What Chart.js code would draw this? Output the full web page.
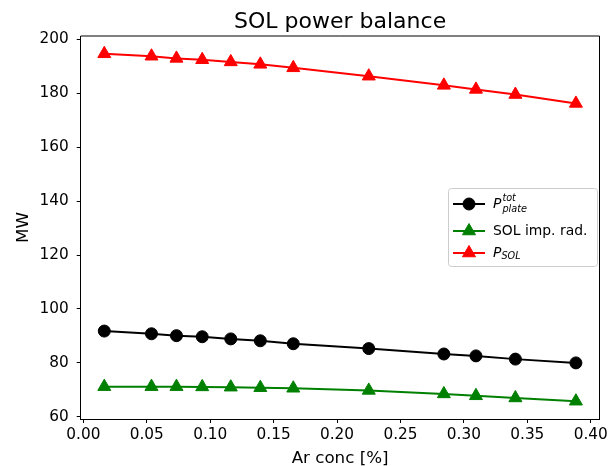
<!DOCTYPE html>
<html>
<head>
<meta charset="utf-8">
<script src="https://cdn.jsdelivr.net/npm/chart.js@4/dist/chart.umd.min.js"></script>
<style>
  html, body { margin: 0; padding: 0; background: #fff; }
  canvas { display: block; }
</style>
</head>
<body>
<canvas id="chart" width="608" height="466"></canvas>
<script>
// values
const arConc = [0.0165, 0.0537, 0.0734, 0.0937, 0.1162, 0.1395, 0.1655, 0.2250, 0.2842, 0.3095, 0.3406, 0.3883];
const pPlate = [91.8, 90.8, 90.1, 89.7, 88.9, 88.2, 87.1, 85.3, 83.3, 82.6, 81.4, 80.0];
const solImpRad = [71.2, 71.2, 71.2, 71.1, 71.0, 70.8, 70.6, 69.8, 68.5, 67.8, 67.0, 65.8];
const pSol = [194.6, 193.7, 192.9, 192.4, 191.6, 190.7, 189.4, 186.3, 182.9, 181.4, 179.5, 176.2];

const xTicks = [0, 0.05, 0.1, 0.15, 0.2, 0.25, 0.3, 0.35, 0.4];
const yTicks = [60, 80, 100, 120, 140, 160, 180, 200];

const FONT = "'DejaVu Sans', sans-serif";
Chart.defaults.color = "#000";
Chart.defaults.font.family = FONT;

function points(ys) {
  return arConc.map((x, i) => ({ x: x, y: ys[i] }));
}

const series = [
  { key: "plate", data: pPlate, color: "#000000", style: "circle", radius: 6 },
  { key: "imp", data: solImpRad, color: "#008000", style: "triangle", radius: 7.5 },
  { key: "sol", data: pSol, color: "#ff0000", style: "triangle", radius: 7.5 },
];

// frame on top/right like matplotlib axes, plus title centred over the axes
const framePlugin = {
  id: "frame",
  afterDraw(chart) {
    const { ctx, chartArea: a } = chart;
    ctx.save();
    ctx.strokeStyle = "#000";
    ctx.lineWidth = 1;
    ctx.beginPath();
    ctx.moveTo(a.left, a.top);
    ctx.lineTo(a.right, a.top);
    ctx.lineTo(a.right, a.bottom);
    ctx.stroke();

    ctx.fillStyle = "#000";
    ctx.font = "22px " + FONT;
    ctx.textAlign = "center";
    ctx.textBaseline = "alphabetic";
    ctx.fillText("SOL power balance", (a.left + a.right) / 2, 27.5);
    ctx.restore();
  },
};

// legend drawn inside the axes, with math-style labels
const legendPlugin = {
  id: "innerLegend",
  afterDraw(chart) {
    const ctx = chart.ctx;
    const box = { x: 448.5, y: 188.5, w: 149, h: 78 };
    ctx.save();
    ctx.fillStyle = "rgba(255,255,255,0.8)";
    ctx.strokeStyle = "#cccccc";
    ctx.lineWidth = 1;
    ctx.beginPath();
    ctx.roundRect(box.x, box.y, box.w, box.h, 3);
    ctx.fill();
    ctx.stroke();

    const rows = [204, 231, 253];
    series.forEach((s, i) => {
      const y = rows[i];
      ctx.strokeStyle = s.color;
      ctx.lineWidth = 2;
      ctx.beginPath();
      ctx.moveTo(453, y);
      ctx.lineTo(485, y);
      ctx.stroke();
      ctx.fillStyle = s.color;
      ctx.strokeStyle = s.color;
      ctx.lineWidth = 1;
      Chart.helpers.drawPoint(ctx, { pointStyle: s.style, radius: s.radius, borderWidth: 1 }, 469, y);

      ctx.fillStyle = "#000";
      ctx.textBaseline = "middle";
      ctx.textAlign = "left";
      let tx = 493;
      if (s.key === "imp") {
        ctx.font = "13.9px " + FONT;
        ctx.fillText("SOL imp. rad.", tx, y);
      } else {
        ctx.font = "italic 13.9px " + FONT;
        ctx.fillText("P", tx, y);
        tx += ctx.measureText("P").width + 1;
        ctx.font = "italic 9.7px " + FONT;
        if (s.key === "plate") {
          ctx.fillText("tot", tx, y - 6);
          ctx.fillText("plate", tx, y + 5);
        } else {
          ctx.fillText("SOL", tx - 1, y + 3);
        }
      }
    });
    ctx.restore();
  },
};

new Chart(document.getElementById("chart"), {
  type: "scatter",
  data: {
    datasets: series.map((s) => ({
      label: s.key,
      data: points(s.data),
      showLine: true,
      borderColor: s.color,
      backgroundColor: s.color,
      borderWidth: 2,
      pointStyle: s.style,
      pointRadius: s.radius,
      pointHoverRadius: s.radius,
      pointBorderWidth: 1,
      pointBackgroundColor: s.color,
      pointBorderColor: s.color,
    })),
  },
  options: {
    responsive: false,
    animation: false,
    devicePixelRatio: 1,
    layout: { padding: { top: 36, right: 7.7, bottom: 0, left: 0 } },
    plugins: {
      legend: { display: false },
      tooltip: { enabled: false },
      title: { display: false },
    },
    scales: {
      x: {
        type: "linear",
        min: -0.0021,
        max: 0.4069,
        afterBuildTicks: (scale) => {
          scale.ticks = xTicks.map((v) => ({ value: v }));
        },
        afterFit: (scale) => {
          scale.height = 47;
          scale.paddingLeft = 0;
          scale.paddingRight = 0;
        },
        ticks: {
          callback: (v) => Number(v).toFixed(2),
          font: { family: FONT, size: 15.3 },
          color: "#000",
          padding: 3,
          maxRotation: 0,
          autoSkip: false,
        },
        grid: {
          display: true,
          drawOnChartArea: false,
          drawTicks: true,
          tickLength: 4,
          color: "#000",
        },
        border: { display: true, color: "#000", width: 1 },
        title: {
          display: true,
          text: "Ar conc [%]",
          color: "#000",
          font: { family: FONT, size: 16.7 },
          padding: { top: 0, bottom: -3 },
        },
      },
      y: {
        type: "linear",
        min: 59.2,
        max: 201.2,
        afterBuildTicks: (scale) => {
          scale.ticks = yTicks.map((v) => ({ value: v }));
        },
        afterFit: (scale) => {
          scale.width = 80.7;
          scale.paddingTop = 0;
          scale.paddingBottom = 0;
        },
        ticks: {
          callback: (v) => String(v),
          font: { family: FONT, size: 15.3 },
          color: "#000",
          padding: 8,
          autoSkip: false,
        },
        grid: {
          display: true,
          drawOnChartArea: false,
          drawTicks: true,
          tickLength: 4,
          color: "#000",
        },
        border: { display: true, color: "#000", width: 1 },
        title: {
          display: true,
          text: "MW",
          color: "#000",
          font: { family: FONT, size: 16.7 },
          padding: { top: 14, bottom: 0 },
        },
      },
    },
  },
  plugins: [framePlugin, legendPlugin],
});
</script>
</body>
</html>
